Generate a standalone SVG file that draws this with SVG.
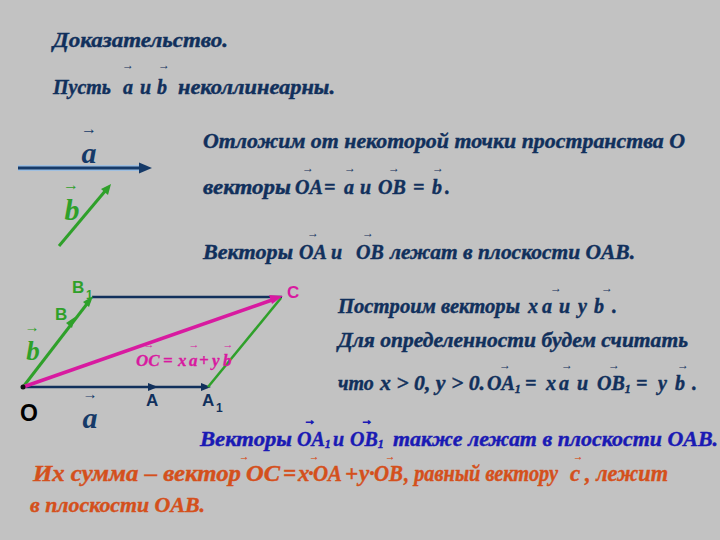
<svg xmlns="http://www.w3.org/2000/svg" width="720" height="540" viewBox="0 0 720 540">
<style>
.t{font-family:"Liberation Serif",serif;font-weight:bold;font-style:italic;font-size:20px;fill:#11305c;stroke:#11305c;stroke-width:0.4}
.bl{fill:#1a1ab4;stroke:#1a1ab4}
.or{font-size:23px;fill:#d4501c;stroke:#d4501c}
.ar{font-family:"Liberation Serif",serif;font-size:12px;text-anchor:middle}
.sub{font-size:12px}
.s{font-family:"Liberation Sans",sans-serif;font-weight:bold;font-size:17px}
.big{font-family:"Liberation Serif",serif;font-weight:bold;font-style:italic;font-size:30px;text-anchor:middle}
.nv{fill:#11305c}
.gr{fill:#2fa02a}
.mg{fill:#d81aa0;stroke:#d81aa0}
</style>
<rect width="720" height="540" fill="#c2c2c2"/>

<g id="text-left">
<text class="t" x="53" y="47" textLength="175" lengthAdjust="spacingAndGlyphs" style="font-size:21px">Доказательство.</text>
<text class="t" y="94"><tspan x="53">Пусть</tspan><tspan x="123">a</tspan><tspan x="140">и</tspan><tspan x="157">b</tspan><tspan x="178" textLength="157" lengthAdjust="spacingAndGlyphs">неколлинеарны.</tspan></text>
<text class="ar nv" x="128" y="69">→</text>
<text class="ar nv" x="164" y="69">→</text>
</g>

<g id="text-right">
<text class="t" x="203" y="148" textLength="482" lengthAdjust="spacingAndGlyphs">Отложим от некоторой точки пространства O</text>
<text class="t" y="194"><tspan x="203" textLength="88" lengthAdjust="spacingAndGlyphs">векторы</tspan><tspan x="295">OA</tspan><tspan x="324">=</tspan><tspan x="344">a</tspan><tspan x="360">и</tspan><tspan x="378">OB</tspan><tspan x="413">=</tspan><tspan x="432">b</tspan><tspan x="445">.</tspan></text>
<text class="ar nv" x="308" y="172">→</text>
<text class="ar nv" x="350" y="172">→</text>
<text class="ar nv" x="394" y="172">→</text>
<text class="ar nv" x="438" y="172">→</text>

<text class="t" y="259"><tspan x="203" textLength="90" lengthAdjust="spacingAndGlyphs">Векторы</tspan><tspan x="299">OA</tspan><tspan x="331">и</tspan><tspan x="356">OB</tspan><tspan x="390" textLength="245" lengthAdjust="spacingAndGlyphs">лежат в плоскости OAB.</tspan></text>
<text class="ar nv" x="313" y="237">→</text>
<text class="ar nv" x="368" y="237">→</text>

<text class="t" y="313"><tspan x="338" textLength="182" lengthAdjust="spacingAndGlyphs">Построим векторы</tspan><tspan x="528">x</tspan><tspan x="542">a</tspan><tspan x="559">и</tspan><tspan x="578">y</tspan><tspan x="594">b</tspan><tspan x="612">.</tspan></text>
<text class="ar nv" x="556" y="292">→</text>
<text class="ar nv" x="607" y="292">→</text>

<text class="t" x="338" y="347" textLength="350" lengthAdjust="spacingAndGlyphs">Для определенности будем считать</text>

<text class="t" y="390"><tspan x="338">что</tspan><tspan x="380" textLength="105" lengthAdjust="spacingAndGlyphs">x &gt; 0, y &gt; 0.</tspan><tspan x="487">OA</tspan><tspan class="sub" dy="3">1</tspan><tspan x="525" dy="-3">=</tspan><tspan x="546">x</tspan><tspan x="559">a</tspan><tspan x="577">и</tspan><tspan x="597">OB</tspan><tspan class="sub" dy="3">1</tspan><tspan x="636" dy="-3">=</tspan><tspan x="658">y</tspan><tspan x="675">b</tspan><tspan x="692">.</tspan></text>
<text class="ar nv" x="505" y="369">→</text>
<text class="ar nv" x="567" y="369">→</text>
<text class="ar nv" x="614" y="369">→</text>
<text class="ar nv" x="683" y="369">→</text>

<text class="t bl" y="446"><tspan x="200" textLength="92" lengthAdjust="spacingAndGlyphs">Векторы</tspan><tspan x="297">OA</tspan><tspan class="sub" dy="2">1</tspan><tspan x="333" dy="-2">и</tspan><tspan x="350">OB</tspan><tspan class="sub" dy="2">1</tspan><tspan x="393" dy="-2" textLength="325" lengthAdjust="spacingAndGlyphs">также лежат в плоскости OAB.</tspan></text>
<text class="ar bl" x="310" y="424">→</text>
<text class="ar bl" x="367" y="424">→</text>

<text class="t or" y="481"><tspan x="33" textLength="208" lengthAdjust="spacingAndGlyphs">Их сумма – вектор</tspan><tspan x="246" textLength="34" lengthAdjust="spacingAndGlyphs">OC</tspan><tspan x="283">=</tspan><tspan x="298">x</tspan><tspan x="308">·</tspan><tspan x="313" textLength="29" lengthAdjust="spacingAndGlyphs">OA</tspan><tspan x="345">+</tspan><tspan x="359">y</tspan><tspan x="369">·</tspan><tspan x="374" textLength="29" lengthAdjust="spacingAndGlyphs">OB</tspan><tspan x="404" textLength="154" lengthAdjust="spacingAndGlyphs">, равный вектору</tspan><tspan x="570">c</tspan><tspan x="585" textLength="83" lengthAdjust="spacingAndGlyphs">, лежит</tspan></text>
<text class="ar or" x="244" y="460" style="font-size:10px;stroke-width:0.2">→</text>
<text class="ar or" x="314" y="460" style="font-size:10px;stroke-width:0.2">→</text>
<text class="ar or" x="390" y="460" style="font-size:10px;stroke-width:0.2">→</text>
<text class="ar or" x="578" y="460" style="font-size:10px;stroke-width:0.2">→</text>
<text class="t or" x="30" y="512" textLength="175" lengthAdjust="spacingAndGlyphs" style="font-size:21px">в плоскости OAB.</text>
</g>

<g id="vector-a">
<line x1="18" y1="168" x2="142" y2="168" stroke="#9fbfe0" stroke-width="6"/>
<line x1="18" y1="168" x2="142" y2="168" stroke="#163a68" stroke-width="3"/>
<polygon points="152,168 139,162.5 139,173.5" fill="#163a68"/>
<text class="big" x="89" y="163" fill="#163a68">a</text>
<text class="ar" x="89" y="134" fill="#163a68" style="font-size:16px">→</text>
</g>

<g id="vector-b">
<line x1="59" y1="246" x2="106" y2="190" stroke="#2fa02a" stroke-width="3"/>
<polygon points="111,184 101,189 108,195" fill="#2fa02a"/>
<text class="big" x="72" y="220" fill="#2fa02a">b</text>
<text class="ar" x="71" y="190" fill="#2fa02a" style="font-size:16px">→</text>
</g>

<g id="connectors">
<line x1="23" y1="387" x2="206" y2="387" stroke="#11305c" stroke-width="2.5"/>
<polygon points="158,387 148,383 148,391" fill="#11305c"/>
<polygon points="211,387 201,383 201,391" fill="#11305c"/>
<line x1="92" y1="297" x2="282" y2="297" stroke="#11305c" stroke-width="2.5"/>
<line x1="23" y1="387" x2="90" y2="300" stroke="#2fa02a" stroke-width="3"/>
<polygon points="75,317 66,323 72,328" fill="#2fa02a"/>
<polygon points="93,296 83,302 89,307" fill="#2fa02a"/>
<line x1="208" y1="387" x2="281" y2="298" stroke="#2fa02a" stroke-width="2.5"/>
<line x1="23" y1="387" x2="272" y2="300" stroke="#d81aa0" stroke-width="3.5"/>
<polygon points="283,296 269,295 272,304" fill="#d81aa0"/>
<circle cx="23" cy="387" r="2.5" fill="#111"/>
</g>

<g id="node-O"><text class="s" x="20" y="421" fill="#000" style="font-size:23px">O</text></g>
<g id="node-A"><text class="s nv" x="146" y="406">A</text></g>
<g id="node-A1"><text class="s nv" x="202" y="406">A</text><text class="s nv" x="216" y="412" style="font-size:12px">1</text></g>
<g id="node-B"><text class="s gr" x="55" y="320">B</text></g>
<g id="node-B1"><text class="s gr" x="72" y="293">B</text><text class="s gr" x="86" y="299" style="font-size:12px">1</text></g>
<g id="node-C"><text class="s" x="287" y="298" fill="#d81aa0">C</text></g>

<g id="label-b"><text class="big" x="33" y="360" fill="#2fa02a" style="font-size:27px">b</text><text class="ar" x="32" y="332" fill="#2fa02a" style="font-size:15px">→</text></g>
<g id="label-a"><text class="big" x="90" y="428" fill="#163a68">a</text><text class="ar" x="90" y="399" fill="#163a68" style="font-size:15px">→</text></g>

<g id="label-OC">
<text class="t mg" y="366" style="font-size:17px;stroke-width:0.3"><tspan x="136">OC</tspan><tspan x="163">=</tspan><tspan x="178">x</tspan><tspan x="189">a</tspan><tspan x="199">+</tspan><tspan x="212">y</tspan><tspan x="223">b</tspan></text>
<text class="ar mg" x="149" y="348" style="font-size:11px;stroke-width:0">→</text>
<text class="ar mg" x="194" y="348" style="font-size:11px;stroke-width:0">→</text>
<text class="ar mg" x="228" y="348" style="font-size:11px;stroke-width:0">→</text>
</g>
</svg>
